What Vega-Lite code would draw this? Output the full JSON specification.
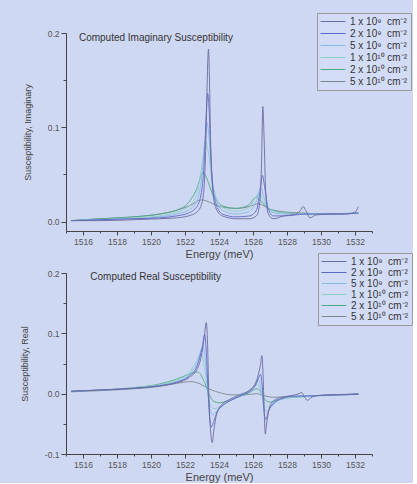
{
"$schema": "https://vega.github.io/schema/vega-lite/v6.json",
"background": "#cfd8f3",
"padding": {"left": 20, "top": 12, "right": 0, "bottom": 0},
"bounds": "flush",
"spacing": 42,
"config": {
  "font": "Liberation Sans",
  "view": {"stroke": null},
  "axis": {"domainColor": "#444", "tickColor": "#444", "labelColor": "#555", "titleColor": "#444", "labelFont": "Liberation Sans", "titleFont": "Liberation Sans", "titleFontWeight": "normal", "grid": false, "labelFontSize": 8.5, "labelOverlap": false, "labelFlush": false},
  "legend": {"orient": "none", "title": null, "symbolType": "M-1,0H4", "symbolSize": 100, "symbolStrokeWidth": 1, "labelFontSize": 10, "labelColor": "#333", "labelFont": "Liberation Sans", "strokeColor": "#9a9a9a", "fillColor": "#d3dcf7", "padding": 3, "labelOffset": 19}
},
"datasets": {
"im": [
{"s":"f","x":1515.3,"y":0.001},{"s":"f","x":1517,"y":0.003},{"s":"f","x":1519,"y":0.005},{"s":"f","x":1520.5,"y":0.008},{"s":"f","x":1521.5,"y":0.012},{"s":"f","x":1522.3,"y":0.017},{"s":"f","x":1522.95,"y":0.023},{"s":"f","x":1524.05,"y":0.016},{"s":"f","x":1525,"y":0.014},{"s":"f","x":1525.8,"y":0.016},{"s":"f","x":1526.3,"y":0.019},{"s":"f","x":1527,"y":0.013},{"s":"f","x":1528,"y":0.01},{"s":"f","x":1529,"y":0.009},{"s":"f","x":1530,"y":0.008},{"s":"f","x":1532.2,"y":0.009},
{"s":"e","x":1515.3,"y":0.001},{"s":"e","x":1517,"y":0.003},{"s":"e","x":1519,"y":0.005},{"s":"e","x":1520.5,"y":0.008},{"s":"e","x":1521.5,"y":0.012},{"s":"e","x":1522.2,"y":0.02},{"s":"e","x":1522.7,"y":0.035},{"s":"e","x":1523.05,"y":0.052},{"s":"e","x":1523.3,"y":0.045},{"s":"e","x":1523.6,"y":0.03},{"s":"e","x":1523.9,"y":0.021},{"s":"e","x":1524.3,"y":0.016},{"s":"e","x":1525,"y":0.014},{"s":"e","x":1525.7,"y":0.017},{"s":"e","x":1526.2,"y":0.026},{"s":"e","x":1526.5,"y":0.021},{"s":"e","x":1526.9,"y":0.014},{"s":"e","x":1527.4,"y":0.011},{"s":"e","x":1528,"y":0.009},{"s":"e","x":1529,"y":0.008},{"s":"e","x":1530,"y":0.008},{"s":"e","x":1532.2,"y":0.009},
{"s":"d","x":1515.3,"y":0.001},{"s":"d","x":1517,"y":0.002},{"s":"d","x":1519,"y":0.004},{"s":"d","x":1520.5,"y":0.006},{"s":"d","x":1521.5,"y":0.01},{"s":"d","x":1522.2,"y":0.016},{"s":"d","x":1522.7,"y":0.03},{"s":"d","x":1523.0,"y":0.06},{"s":"d","x":1523.2,"y":0.085},{"s":"d","x":1523.4,"y":0.07},{"s":"d","x":1523.6,"y":0.042},{"s":"d","x":1523.9,"y":0.023},{"s":"d","x":1524.3,"y":0.014},{"s":"d","x":1525,"y":0.011},{"s":"d","x":1525.7,"y":0.014},{"s":"d","x":1526.1,"y":0.024},{"s":"d","x":1526.35,"y":0.03},{"s":"d","x":1526.6,"y":0.022},{"s":"d","x":1526.9,"y":0.014},{"s":"d","x":1527.4,"y":0.01},{"s":"d","x":1528,"y":0.009},{"s":"d","x":1529,"y":0.008},{"s":"d","x":1530,"y":0.008},{"s":"d","x":1532.2,"y":0.009},
{"s":"c","x":1515.3,"y":0.001},{"s":"c","x":1517,"y":0.002},{"s":"c","x":1519,"y":0.003},{"s":"c","x":1520.5,"y":0.005},{"s":"c","x":1521.5,"y":0.008},{"s":"c","x":1522.2,"y":0.012},{"s":"c","x":1522.7,"y":0.022},{"s":"c","x":1523.0,"y":0.05},{"s":"c","x":1523.15,"y":0.08},{"s":"c","x":1523.3,"y":0.105},{"s":"c","x":1523.45,"y":0.08},{"s":"c","x":1523.6,"y":0.045},{"s":"c","x":1523.8,"y":0.025},{"s":"c","x":1524.2,"y":0.012},{"s":"c","x":1525,"y":0.008},{"s":"c","x":1525.8,"y":0.011},{"s":"c","x":1526.2,"y":0.022},{"s":"c","x":1526.45,"y":0.036},{"s":"c","x":1526.65,"y":0.025},{"s":"c","x":1526.9,"y":0.013},{"s":"c","x":1527.3,"y":0.009},{"s":"c","x":1528,"y":0.008},{"s":"c","x":1529,"y":0.008},{"s":"c","x":1530,"y":0.008},{"s":"c","x":1532.2,"y":0.009},
{"s":"b","x":1515.3,"y":0.001},{"s":"b","x":1517,"y":0.002},{"s":"b","x":1519,"y":0.003},{"s":"b","x":1520.5,"y":0.004},{"s":"b","x":1521.5,"y":0.006},{"s":"b","x":1522.2,"y":0.009},{"s":"b","x":1522.7,"y":0.016},{"s":"b","x":1523.0,"y":0.035},{"s":"b","x":1523.15,"y":0.07},{"s":"b","x":1523.25,"y":0.115},{"s":"b","x":1523.33,"y":0.136},{"s":"b","x":1523.4,"y":0.125},{"s":"b","x":1523.5,"y":0.08},{"s":"b","x":1523.6,"y":0.045},{"s":"b","x":1523.8,"y":0.02},{"s":"b","x":1524.2,"y":0.008},{"s":"b","x":1525,"y":0.005},{"s":"b","x":1525.8,"y":0.006},{"s":"b","x":1526.2,"y":0.012},{"s":"b","x":1526.4,"y":0.03},{"s":"b","x":1526.55,"y":0.049},{"s":"b","x":1526.7,"y":0.035},{"s":"b","x":1526.9,"y":0.013},{"s":"b","x":1527.2,"y":0.006},{"s":"b","x":1527.8,"y":0.006},{"s":"b","x":1528.5,"y":0.007},{"s":"b","x":1529,"y":0.008},{"s":"b","x":1530,"y":0.008},{"s":"b","x":1531,"y":0.008},{"s":"b","x":1532.2,"y":0.009},
{"s":"a","x":1515.3,"y":0.001},{"s":"a","x":1517,"y":0.001},{"s":"a","x":1519,"y":0.002},{"s":"a","x":1520.5,"y":0.003},{"s":"a","x":1521.5,"y":0.004},{"s":"a","x":1522.2,"y":0.006},{"s":"a","x":1522.7,"y":0.01},{"s":"a","x":1523.0,"y":0.02},{"s":"a","x":1523.15,"y":0.045},{"s":"a","x":1523.25,"y":0.1},{"s":"a","x":1523.33,"y":0.165},{"s":"a","x":1523.38,"y":0.183},{"s":"a","x":1523.43,"y":0.16},{"s":"a","x":1523.5,"y":0.09},{"s":"a","x":1523.6,"y":0.04},{"s":"a","x":1523.8,"y":0.015},{"s":"a","x":1524.2,"y":0.006},{"s":"a","x":1525,"y":0.003},{"s":"a","x":1525.8,"y":0.003},{"s":"a","x":1526.2,"y":0.006},{"s":"a","x":1526.4,"y":0.02},{"s":"a","x":1526.5,"y":0.06},{"s":"a","x":1526.58,"y":0.122},{"s":"a","x":1526.65,"y":0.09},{"s":"a","x":1526.75,"y":0.03},{"s":"a","x":1526.9,"y":0.008},{"s":"a","x":1527.2,"y":0.003},{"s":"a","x":1527.8,"y":0.006},{"s":"a","x":1528.5,"y":0.008},{"s":"a","x":1528.8,"y":0.012},{"s":"a","x":1528.95,"y":0.016},{"s":"a","x":1529.1,"y":0.012},{"s":"a","x":1529.35,"y":0.004},{"s":"a","x":1529.7,"y":0.007},{"s":"a","x":1530.5,"y":0.008},{"s":"a","x":1531.5,"y":0.008},{"s":"a","x":1532.0,"y":0.01},{"s":"a","x":1532.2,"y":0.016}
],
"re": [
{"s":"f","x":1515.3,"y":0.003},{"s":"f","x":1517,"y":0.005},{"s":"f","x":1519,"y":0.008},{"s":"f","x":1520.5,"y":0.012},{"s":"f","x":1521.5,"y":0.017},{"s":"f","x":1522.35,"y":0.02},{"s":"f","x":1522.9,"y":0.016},{"s":"f","x":1523.4,"y":0.008},{"s":"f","x":1524,"y":0.002},{"s":"f","x":1524.8,"y":-0.002},{"s":"f","x":1525.5,"y":-0.002},{"s":"f","x":1526.2,"y":0.0},{"s":"f","x":1526.6,"y":-0.003},{"s":"f","x":1527.2,"y":-0.006},{"s":"f","x":1528,"y":-0.005},{"s":"f","x":1529,"y":-0.004},{"s":"f","x":1530,"y":-0.003},{"s":"f","x":1532.2,"y":-0.001},
{"s":"e","x":1515.3,"y":0.004},{"s":"e","x":1517,"y":0.006},{"s":"e","x":1519,"y":0.01},{"s":"e","x":1520.5,"y":0.016},{"s":"e","x":1521.5,"y":0.024},{"s":"e","x":1522.2,"y":0.032},{"s":"e","x":1522.76,"y":0.036},{"s":"e","x":1523.1,"y":0.022},{"s":"e","x":1523.4,"y":0.0},{"s":"e","x":1523.7,"y":-0.013},{"s":"e","x":1524.0,"y":-0.015},{"s":"e","x":1524.5,"y":-0.012},{"s":"e","x":1525.2,"y":-0.005},{"s":"e","x":1525.8,"y":0.002},{"s":"e","x":1526.2,"y":0.008},{"s":"e","x":1526.45,"y":0.003},{"s":"e","x":1526.7,"y":-0.01},{"s":"e","x":1527.0,"y":-0.014},{"s":"e","x":1527.4,"y":-0.011},{"s":"e","x":1528,"y":-0.007},{"s":"e","x":1529,"y":-0.005},{"s":"e","x":1530,"y":-0.003},{"s":"e","x":1532.2,"y":-0.001},
{"s":"d","x":1515.3,"y":0.004},{"s":"d","x":1517,"y":0.006},{"s":"d","x":1519,"y":0.01},{"s":"d","x":1520.5,"y":0.015},{"s":"d","x":1521.5,"y":0.022},{"s":"d","x":1522.2,"y":0.033},{"s":"d","x":1522.6,"y":0.05},{"s":"d","x":1522.95,"y":0.066},{"s":"d","x":1523.15,"y":0.045},{"s":"d","x":1523.35,"y":0.0},{"s":"d","x":1523.55,"y":-0.022},{"s":"d","x":1523.75,"y":-0.025},{"s":"d","x":1524.1,"y":-0.02},{"s":"d","x":1524.6,"y":-0.012},{"s":"d","x":1525.2,"y":-0.004},{"s":"d","x":1525.8,"y":0.005},{"s":"d","x":1526.1,"y":0.012},{"s":"d","x":1526.3,"y":0.015},{"s":"d","x":1526.5,"y":0.0},{"s":"d","x":1526.7,"y":-0.018},{"s":"d","x":1526.85,"y":-0.022},{"s":"d","x":1527.1,"y":-0.017},{"s":"d","x":1527.6,"y":-0.01},{"s":"d","x":1528.3,"y":-0.006},{"s":"d","x":1529.5,"y":-0.004},{"s":"d","x":1530.5,"y":-0.003},{"s":"d","x":1532.2,"y":-0.001},
{"s":"c","x":1515.3,"y":0.004},{"s":"c","x":1517,"y":0.006},{"s":"c","x":1519,"y":0.009},{"s":"c","x":1520.5,"y":0.014},{"s":"c","x":1521.5,"y":0.02},{"s":"c","x":1522.2,"y":0.03},{"s":"c","x":1522.7,"y":0.05},{"s":"c","x":1523.06,"y":0.078},{"s":"c","x":1523.2,"y":0.055},{"s":"c","x":1523.35,"y":0.005},{"s":"c","x":1523.5,"y":-0.03},{"s":"c","x":1523.65,"y":-0.035},{"s":"c","x":1523.9,"y":-0.028},{"s":"c","x":1524.3,"y":-0.018},{"s":"c","x":1524.8,"y":-0.01},{"s":"c","x":1525.4,"y":-0.002},{"s":"c","x":1525.9,"y":0.006},{"s":"c","x":1526.2,"y":0.016},{"s":"c","x":1526.35,"y":0.022},{"s":"c","x":1526.5,"y":0.005},{"s":"c","x":1526.65,"y":-0.022},{"s":"c","x":1526.8,"y":-0.03},{"s":"c","x":1527.0,"y":-0.024},{"s":"c","x":1527.4,"y":-0.013},{"s":"c","x":1528,"y":-0.007},{"s":"c","x":1529,"y":-0.004},{"s":"c","x":1530,"y":-0.003},{"s":"c","x":1532.2,"y":-0.001},
{"s":"b","x":1515.3,"y":0.004},{"s":"b","x":1517,"y":0.006},{"s":"b","x":1519,"y":0.009},{"s":"b","x":1520.5,"y":0.013},{"s":"b","x":1521.5,"y":0.019},{"s":"b","x":1522.2,"y":0.028},{"s":"b","x":1522.7,"y":0.045},{"s":"b","x":1523.0,"y":0.075},{"s":"b","x":1523.16,"y":0.098},{"s":"b","x":1523.27,"y":0.06},{"s":"b","x":1523.38,"y":-0.01},{"s":"b","x":1523.48,"y":-0.048},{"s":"b","x":1523.56,"y":-0.055},{"s":"b","x":1523.7,"y":-0.045},{"s":"b","x":1523.9,"y":-0.03},{"s":"b","x":1524.2,"y":-0.02},{"s":"b","x":1524.7,"y":-0.011},{"s":"b","x":1525.3,"y":-0.003},{"s":"b","x":1525.8,"y":0.004},{"s":"b","x":1526.1,"y":0.012},{"s":"b","x":1526.3,"y":0.024},{"s":"b","x":1526.45,"y":0.032},{"s":"b","x":1526.55,"y":0.01},{"s":"b","x":1526.65,"y":-0.03},{"s":"b","x":1526.75,"y":-0.043},{"s":"b","x":1526.9,"y":-0.03},{"s":"b","x":1527.2,"y":-0.016},{"s":"b","x":1527.7,"y":-0.008},{"s":"b","x":1528.3,"y":-0.004},{"s":"b","x":1529,"y":-0.004},{"s":"b","x":1530,"y":-0.003},{"s":"b","x":1531,"y":-0.002},{"s":"b","x":1532.2,"y":-0.001},
{"s":"a","x":1515.3,"y":0.004},{"s":"a","x":1517,"y":0.006},{"s":"a","x":1519,"y":0.009},{"s":"a","x":1520.5,"y":0.013},{"s":"a","x":1521.5,"y":0.018},{"s":"a","x":1522.2,"y":0.026},{"s":"a","x":1522.7,"y":0.04},{"s":"a","x":1523.0,"y":0.068},{"s":"a","x":1523.15,"y":0.098},{"s":"a","x":1523.25,"y":0.118},{"s":"a","x":1523.32,"y":0.09},{"s":"a","x":1523.4,"y":0.0},{"s":"a","x":1523.5,"y":-0.06},{"s":"a","x":1523.6,"y":-0.081},{"s":"a","x":1523.7,"y":-0.06},{"s":"a","x":1523.85,"y":-0.035},{"s":"a","x":1524.1,"y":-0.02},{"s":"a","x":1524.6,"y":-0.01},{"s":"a","x":1525.2,"y":-0.002},{"s":"a","x":1525.8,"y":0.006},{"s":"a","x":1526.1,"y":0.015},{"s":"a","x":1526.3,"y":0.03},{"s":"a","x":1526.45,"y":0.05},{"s":"a","x":1526.52,"y":0.063},{"s":"a","x":1526.58,"y":0.04},{"s":"a","x":1526.65,"y":-0.02},{"s":"a","x":1526.72,"y":-0.067},{"s":"a","x":1526.8,"y":-0.05},{"s":"a","x":1526.95,"y":-0.025},{"s":"a","x":1527.2,"y":-0.012},{"s":"a","x":1527.7,"y":-0.006},{"s":"a","x":1528.3,"y":-0.003},{"s":"a","x":1528.7,"y":0.0},{"s":"a","x":1528.85,"y":0.002},{"s":"a","x":1529.0,"y":-0.004},{"s":"a","x":1529.2,"y":-0.011},{"s":"a","x":1529.4,"y":-0.007},{"s":"a","x":1529.8,"y":-0.003},{"s":"a","x":1530.5,"y":-0.002},{"s":"a","x":1531.5,"y":-0.001},{"s":"a","x":1532.2,"y":0.0}
]
},
"vconcat": [
{
  "width": 306, "height": 198,
  "encoding": {
    "x": {"type": "quantitative", "scale": {"domain": [1515, 1533], "nice": false, "zero": false},
      "axis": {"title": "Energy (meV)", "titleFontSize": 11, "titlePadding": 3, "labelPadding": 2, "labelOverlap": false, "labelFlush": false, "labelBound": false, "format": "d",
        "values": [1515,1516,1517,1518,1519,1520,1521,1522,1523,1524,1525,1526,1527,1528,1529,1530,1531,1532,1533],
        "labelExpr": "datum.value % 2 < 0.5 ? datum.label : ''",
        "tickSize": {"condition": {"test": "datum.value % 2 > 0.5", "value": 2}, "value": 4}}},
    "y": {"type": "quantitative", "scale": {"domain": [-0.01, 0.2], "nice": false, "zero": false},
      "axis": {"title": "Susceptibility, Imaginary", "titleFontSize": 9, "titlePadding": 15, "labelPadding": 2, "labelOverlap": false,
        "values": [0, 0.05, 0.1, 0.15, 0.2],
        "labelExpr": "round(datum.value * 100) % 10 == 0 ? format(datum.value, '.1f') : ''",
        "tickSize": {"condition": {"test": "round(datum.value * 100) % 10 != 0", "value": 3}, "value": 5}}}
  },
  "layer": [
    {
      "data": {"name": "im"},
      "mark": {"type": "line", "strokeWidth": 0.9, "interpolate": "monotone"},
      "encoding": {
        "x": {"field": "x"},
        "y": {"field": "y"},
        "color": {"field": "s", "type": "nominal",
          "scale": {"domain": ["a", "b", "c", "d", "e", "f"], "range": ["#6c6a9e", "#5c68c8", "#86b8e8", "#8ed0c4", "#4caa86", "#7c8890"]},
          "legend": {"legendX": 251, "legendY": -20, "rowPadding": 1,
            "labelExpr": "datum.label == 'a' ? '1 x 10⁹\u00a0 cm⁻²' : datum.label == 'b' ? '2 x 10⁹\u00a0 cm⁻²' : datum.label == 'c' ? '5 x 10⁹\u00a0 cm⁻²' : datum.label == 'd' ? '1 x 10¹⁰ cm⁻²' : datum.label == 'e' ? '2 x 10¹⁰ cm⁻²' : '5 x 10¹⁰ cm⁻²'"}}
      }
    },
    {
      "data": {"values": [{"x": 1515.76, "y": 0.1947, "t": "Computed Imaginary Susceptibility"}]},
      "mark": {"type": "text", "align": "left", "baseline": "middle", "fontSize": 10, "color": "#333", "font": "Liberation Sans"},
      "encoding": {
        "x": {"field": "x"},
        "y": {"field": "y"},
        "text": {"field": "t"}
      }
    }
  ]
},
{
  "width": 306, "height": 181,
  "encoding": {
    "x": {"type": "quantitative", "scale": {"domain": [1515, 1533], "nice": false, "zero": false},
      "axis": {"title": "Energy (meV)", "titleFontSize": 11, "titlePadding": 3, "labelPadding": 2, "labelOverlap": false, "labelFlush": false, "labelBound": false, "format": "d",
        "values": [1515,1516,1517,1518,1519,1520,1521,1522,1523,1524,1525,1526,1527,1528,1529,1530,1531,1532,1533],
        "labelExpr": "datum.value % 2 < 0.5 ? datum.label : ''",
        "tickSize": {"condition": {"test": "datum.value % 2 > 0.5", "value": 2}, "value": 4}}},
    "y": {"type": "quantitative", "scale": {"domain": [-0.1, 0.2], "nice": false, "zero": false},
      "axis": {"title": "Susceptibility, Real", "titleFontSize": 9, "titlePadding": 15, "labelPadding": 2, "labelOverlap": false,
        "values": [-0.1, -0.05, 0, 0.05, 0.1, 0.15, 0.2],
        "labelExpr": "round(datum.value * 100) % 10 == 0 ? replace(format(datum.value, '.1f'), '\u2212', '-') : ''",
        "tickSize": {"condition": {"test": "round(datum.value * 100) % 10 != 0", "value": 3}, "value": 5}}}
  },
  "layer": [
    {
      "data": {"name": "re"},
      "mark": {"type": "line", "strokeWidth": 0.9, "interpolate": "monotone"},
      "encoding": {
        "x": {"field": "x"},
        "y": {"field": "y"},
        "color": {"field": "s", "type": "nominal",
          "scale": {"domain": ["a", "b", "c", "d", "e", "f"], "range": ["#6c6a9e", "#5c68c8", "#86b8e8", "#8ed0c4", "#4caa86", "#7c8890"]},
          "legend": {"legendX": 252, "legendY": -20, "rowPadding": 0,
            "labelExpr": "datum.label == 'a' ? '1 x 10⁹\u00a0 cm⁻²' : datum.label == 'b' ? '2 x 10⁹\u00a0 cm⁻²' : datum.label == 'c' ? '5 x 10⁹\u00a0 cm⁻²' : datum.label == 'd' ? '1 x 10¹⁰ cm⁻²' : datum.label == 'e' ? '2 x 10¹⁰ cm⁻²' : '5 x 10¹⁰ cm⁻²'"}}
      }
    },
    {
      "data": {"values": [{"x": 1516.43, "y": 0.193, "t": "Computed Real Susceptibility"}]},
      "mark": {"type": "text", "align": "left", "baseline": "middle", "fontSize": 10, "color": "#333", "font": "Liberation Sans"},
      "encoding": {
        "x": {"field": "x"},
        "y": {"field": "y"},
        "text": {"field": "t"}
      }
    }
  ]
}
],
"resolve": {"scale": {"color": "independent"}, "legend": {"color": "independent"}}
}
